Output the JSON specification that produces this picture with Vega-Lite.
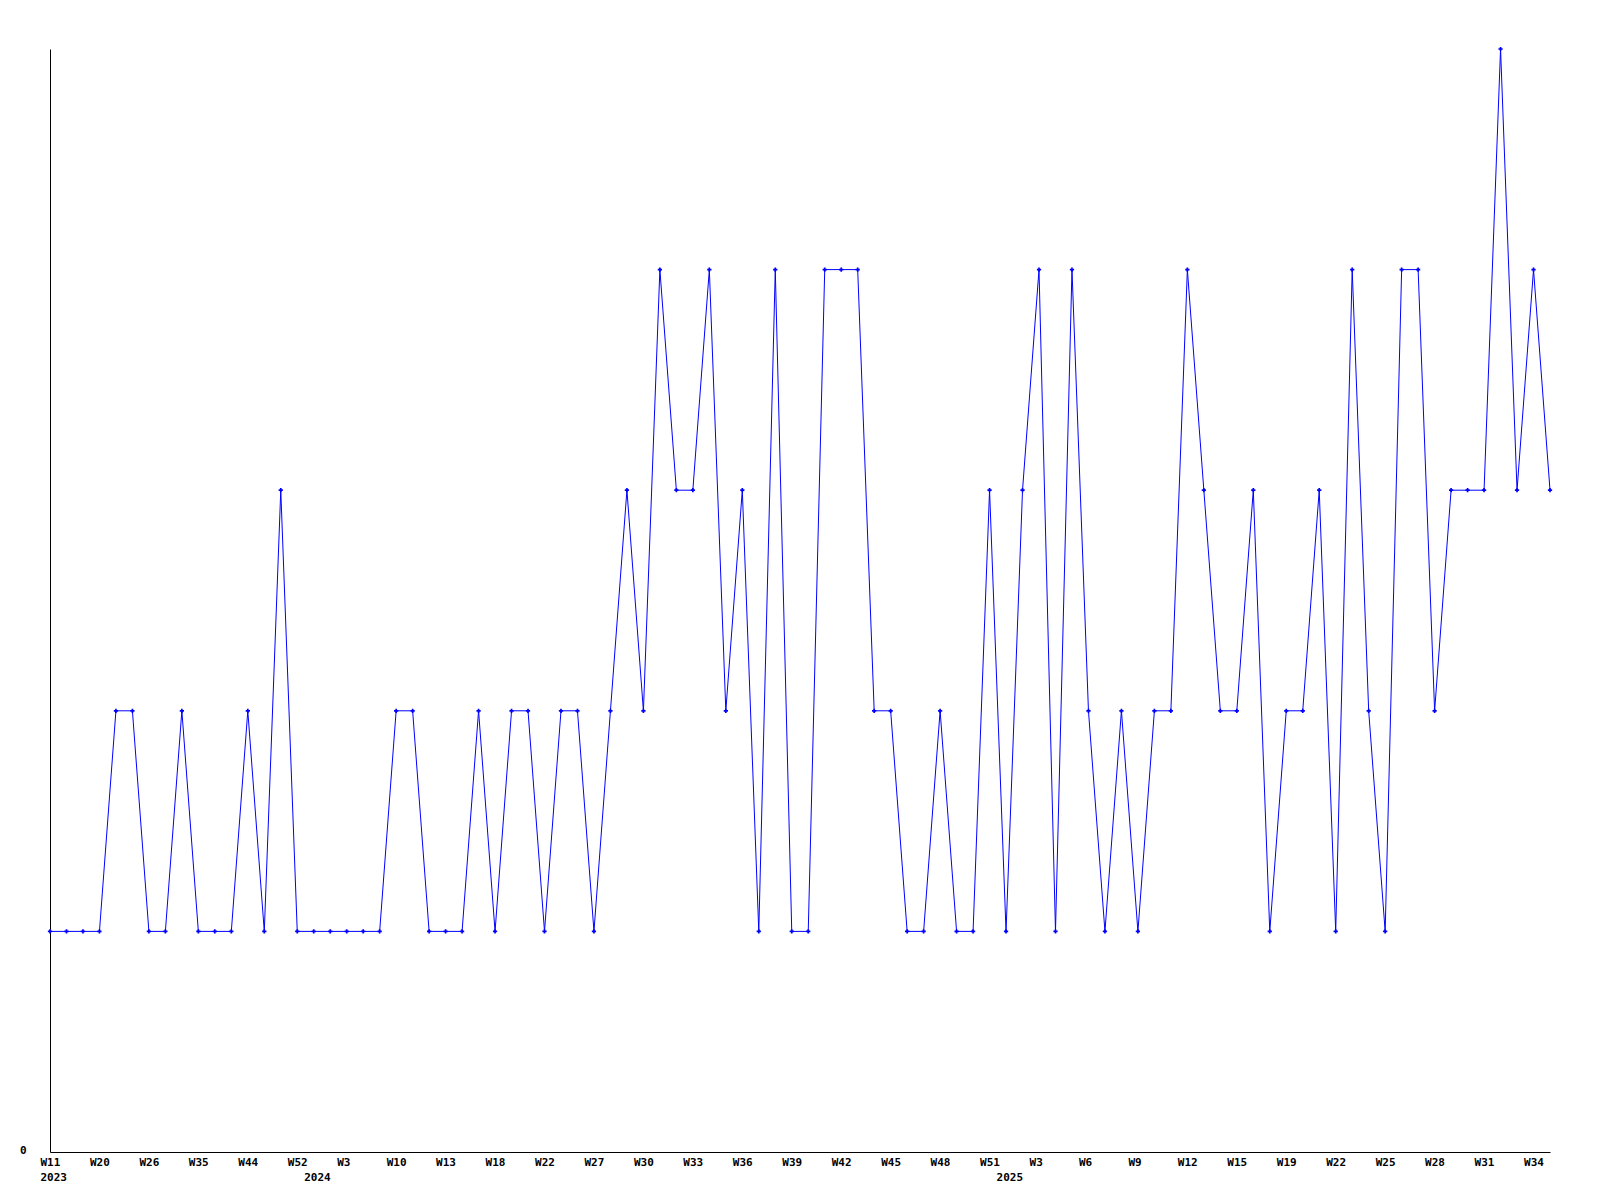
{
  "$schema": "https://vega.github.io/schema/vega-lite/v6.json",
  "width": 1500,
  "height": 1103,
  "autosize": {"type": "none"},
  "padding": {"left": 50, "top": 49, "right": 50, "bottom": 48},
  "background": "white",
  "config": {"view": {"stroke": null}},
  "data": {"values": [
    {"week": "2023-W11", "count": 1}, {"week": "2023-W14", "count": 1}, {"week": "2023-W17", "count": 1}, {"week": "2023-W20", "count": 1},
    {"week": "2023-W22", "count": 2}, {"week": "2023-W24", "count": 2}, {"week": "2023-W26", "count": 1}, {"week": "2023-W29", "count": 1},
    {"week": "2023-W32", "count": 2}, {"week": "2023-W35", "count": 1}, {"week": "2023-W38", "count": 1}, {"week": "2023-W41", "count": 1},
    {"week": "2023-W44", "count": 2}, {"week": "2023-W47", "count": 1}, {"week": "2023-W49", "count": 3}, {"week": "2023-W52", "count": 1},
    {"week": "2024-W01", "count": 1}, {"week": "2024-W02", "count": 1}, {"week": "2024-W03", "count": 1}, {"week": "2024-W05", "count": 1},
    {"week": "2024-W08", "count": 1}, {"week": "2024-W10", "count": 2}, {"week": "2024-W11", "count": 2}, {"week": "2024-W12", "count": 1},
    {"week": "2024-W13", "count": 1}, {"week": "2024-W15", "count": 1}, {"week": "2024-W16", "count": 2}, {"week": "2024-W18", "count": 1},
    {"week": "2024-W19", "count": 2}, {"week": "2024-W20", "count": 2}, {"week": "2024-W22", "count": 1}, {"week": "2024-W24", "count": 2},
    {"week": "2024-W25", "count": 2}, {"week": "2024-W27", "count": 1}, {"week": "2024-W28", "count": 2}, {"week": "2024-W29", "count": 3},
    {"week": "2024-W30", "count": 2}, {"week": "2024-W31", "count": 4}, {"week": "2024-W32", "count": 3}, {"week": "2024-W33", "count": 3},
    {"week": "2024-W34", "count": 4}, {"week": "2024-W35", "count": 2}, {"week": "2024-W36", "count": 3}, {"week": "2024-W37", "count": 1},
    {"week": "2024-W38", "count": 4}, {"week": "2024-W39", "count": 1}, {"week": "2024-W40", "count": 1}, {"week": "2024-W41", "count": 4},
    {"week": "2024-W42", "count": 4}, {"week": "2024-W43", "count": 4}, {"week": "2024-W44", "count": 2}, {"week": "2024-W45", "count": 2},
    {"week": "2024-W46", "count": 1}, {"week": "2024-W47", "count": 1}, {"week": "2024-W48", "count": 2}, {"week": "2024-W49", "count": 1},
    {"week": "2024-W50", "count": 1}, {"week": "2024-W51", "count": 3}, {"week": "2025-W01", "count": 1}, {"week": "2025-W02", "count": 3},
    {"week": "2025-W03", "count": 4}, {"week": "2025-W04", "count": 1}, {"week": "2025-W05", "count": 4}, {"week": "2025-W06", "count": 2},
    {"week": "2025-W07", "count": 1}, {"week": "2025-W08", "count": 2}, {"week": "2025-W09", "count": 1}, {"week": "2025-W10", "count": 2},
    {"week": "2025-W11", "count": 2}, {"week": "2025-W12", "count": 4}, {"week": "2025-W13", "count": 3}, {"week": "2025-W14", "count": 2},
    {"week": "2025-W15", "count": 2}, {"week": "2025-W17", "count": 3}, {"week": "2025-W18", "count": 1}, {"week": "2025-W19", "count": 2},
    {"week": "2025-W20", "count": 2}, {"week": "2025-W21", "count": 3}, {"week": "2025-W22", "count": 1}, {"week": "2025-W23", "count": 4},
    {"week": "2025-W24", "count": 2}, {"week": "2025-W25", "count": 1}, {"week": "2025-W26", "count": 4}, {"week": "2025-W27", "count": 4},
    {"week": "2025-W28", "count": 2}, {"week": "2025-W29", "count": 3}, {"week": "2025-W30", "count": 3}, {"week": "2025-W31", "count": 3},
    {"week": "2025-W32", "count": 5}, {"week": "2025-W33", "count": 3}, {"week": "2025-W34", "count": 4}, {"week": "2025-W35", "count": 3}
  ]},
  "encoding": {
    "x": {
      "field": "week",
      "type": "ordinal",
      "sort": null,
      "scale": {"type": "point", "padding": 0},
      "axis": {
        "title": null,
        "values": ["2023-W11", "2023-W20", "2023-W26", "2023-W35", "2023-W44", "2023-W52", "2024-W01", "2024-W03", "2024-W10", "2024-W13", "2024-W18", "2024-W22", "2024-W27", "2024-W30", "2024-W33", "2024-W36", "2024-W39", "2024-W42", "2024-W45", "2024-W48", "2024-W51", "2025-W01", "2025-W03", "2025-W06", "2025-W09", "2025-W12", "2025-W15", "2025-W19", "2025-W22", "2025-W25", "2025-W28", "2025-W31", "2025-W34"],
        "labelExpr": "datum.value == '2023-W11' ? ['W11', '2023'] : (datum.value == '2024-W01' || datum.value == '2025-W01') ? [' ', substring(datum.value, 0, 4)] : 'W' + toNumber(substring(datum.value, 6))",
        "labelAngle": 0,
        "labelAlign": "left",
        "labelBaseline": "top",
        "labelOffset": -10,
        "labelPadding": 4,
        "labelOverlap": false,
        "labelFont": "DejaVu Sans Mono",
        "labelFontWeight": "bold",
        "labelFontSize": 11,
        "labelLineHeight": 15.5,
        "labelColor": "black",
        "ticks": false,
        "grid": false,
        "domainColor": "black",
        "domainWidth": 1
      }
    },
    "y": {
      "field": "count",
      "type": "quantitative",
      "scale": {"domain": [0, 5], "nice": false},
      "axis": {
        "title": null,
        "values": [0],
        "labelFont": "DejaVu Sans Mono",
        "labelFontWeight": "bold",
        "labelFontSize": 11,
        "labelColor": "black",
        "labelPadding": 24,
        "labelBaseline": "middle",
        "labelOffset": -2,
        "ticks": false,
        "grid": false,
        "domainColor": "black",
        "domainWidth": 1
      }
    }
  },
  "layer": [
    {"mark": {"type": "line", "color": "#0000ff", "strokeWidth": 1}},
    {"mark": {"type": "point", "shape": "cross", "filled": true, "size": 18, "color": "#0000ff", "opacity": 1}}
  ]
}
